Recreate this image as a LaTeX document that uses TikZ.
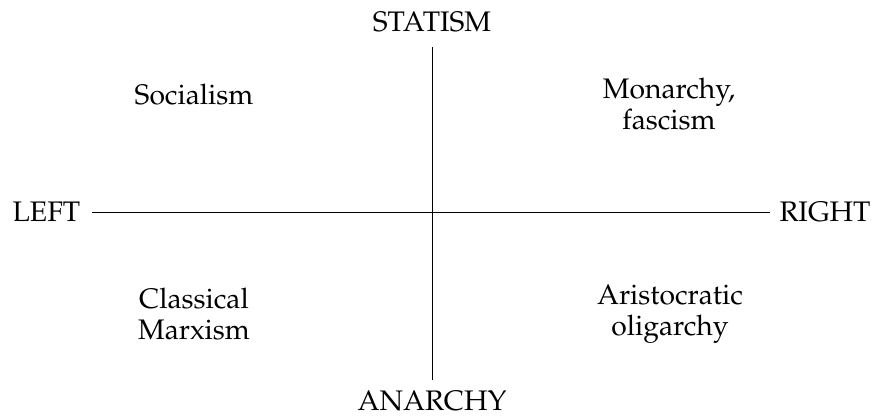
\documentclass[tikz,border=0pt]{standalone}
\usepackage[T1]{fontenc}
\usepackage{mathpazo}
\usepackage{tikz}
\usetikzlibrary{positioning}

\begin{document}
\begin{tikzpicture}[
    x=0.0143cm, y=-0.0143cm,
    axislabel/.style={font=\fontsize{11.5}{12.5}\selectfont, inner sep=0pt},
    quadrant/.style={font=\fontsize{11.5}{12.5}\selectfont, align=center, inner sep=0pt},
    axis/.style={line width=0.35pt},
]
\useasboundingbox (0,0) rectangle (877,416);

\node[axislabel] (statism) at (432,21.5) {STATISM};
\node[axislabel] (anarchy) at (432,401) {ANARCHY};
\node[axislabel] (left) at (46.5,212) {LEFT};
\node[axislabel] (right) at (825,212) {RIGHT};

\node[quadrant] (socialism) at (194,95) {Socialism};
\node[quadrant] (monarchy) at (669,104) {Monarchy,\\fascism};
\node[quadrant] (marxism) at (194,314) {Classical\\Marxism};
\node[quadrant] (oligarchy) at (670,314) {Aristocratic\\oligarchy};

% axes
\draw[axis, shorten <=4.6pt, shorten >=3.9pt] (left.east) -- (right.west);
\draw[axis, shorten <=6pt, shorten >=4.4pt] (statism.south) -- (anarchy.north);
\end{tikzpicture}
\end{document}
